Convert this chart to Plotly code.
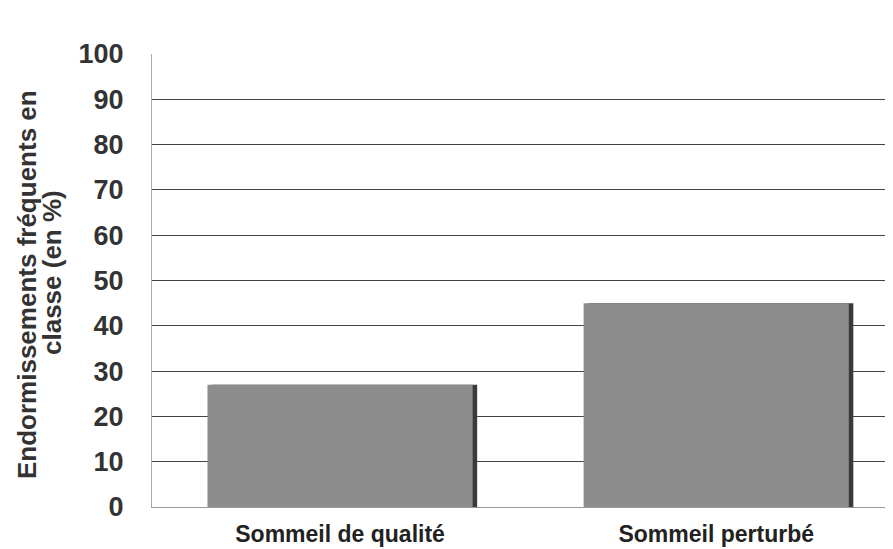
import plotly.graph_objects as go

categories = ["Sommeil de qualité", "Sommeil perturbé"]
values = [27, 45]
y_ticks = [0, 10, 20, 30, 40, 50, 60, 70, 80, 90, 100]
y_title_lines = ["Endormissements fréquents en", "classe (en %)"]

FONT = "Liberation Sans, Arial, sans-serif"

# page body has an 8px margin: figure is placed at (8, 8)
W, H = 885, 541
L, T, B, R = 144, 46, 42, 0
plot_w = W - L - R
plot_h = H - T - B

fig = go.Figure()
# shadow
fig.add_trace(go.Bar(
    x=[0, 1], y=values, width=0.705, offset=-0.3525 + 0.012,
    marker=dict(color="#3a3a3a", line=dict(width=0)),
    hoverinfo="skip", showlegend=False,
))
fig.add_trace(go.Bar(
    x=[0, 1], y=values, width=0.705, offset=-0.3525,
    marker=dict(color="#8d8d8d", line=dict(width=0)),
    showlegend=False,
))

def px_to_paper_x(px):
    return (px - 8 - L) / plot_w

def px_to_paper_y(py):
    return (T + plot_h - (py - 8)) / plot_h

annots = []
for line, px, py in zip(y_title_lines, [27, 52], [285, 273]):
    annots.append(dict(
        text=line, textangle=-90, xref="paper", yref="paper",
        x=px_to_paper_x(px), y=px_to_paper_y(py),
        xanchor="center", yanchor="middle", showarrow=False,
        font=dict(size=26, family=FONT, color="#333333", weight="bold"),
    ))

fig.update_layout(
    width=W, height=H,
    margin=dict(l=L, r=R, t=T, b=B),
    paper_bgcolor="white", plot_bgcolor="white",
    barmode="overlay",
    font=dict(family=FONT, color="#333333"),
    annotations=annots,
    xaxis=dict(
        tickmode="array", tickvals=[0, 1], ticktext=categories,
        range=[-0.5, 1.47], showgrid=False, zeroline=False,
        showline=True, linecolor="#999999", linewidth=1,
        tickfont=dict(size=23, family=FONT, color="#222222", weight="bold"),
        ticks="", ticklabelstandoff=6, fixedrange=True,
    ),
    yaxis=dict(
        range=[0, 100], tickmode="array", tickvals=y_ticks,
        showgrid=True, gridcolor="#444444", gridwidth=1,
        zeroline=False, showline=True, linecolor="#aaaaaa", linewidth=1,
        tickfont=dict(size=27, family=FONT, color="#333333", weight="bold"),
        ticks="", ticklabelstandoff=22,
    ),
)

fig.write_html("out.html")
